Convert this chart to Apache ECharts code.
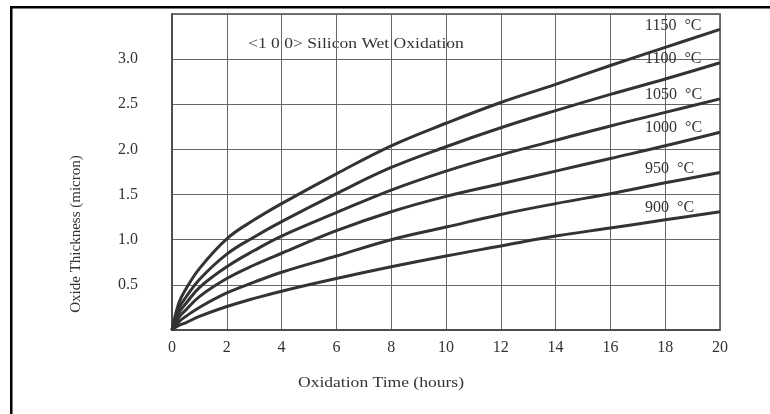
<!DOCTYPE html>
<html>
<head>
<meta charset="utf-8">
<title>Silicon Wet Oxidation</title>
<script src="https://cdn.jsdelivr.net/npm/echarts@6/dist/echarts.min.js"></script>
<style>
  html, body { margin: 0; padding: 0; background: #fff; }
  #main { width: 770px; height: 414px; }
</style>
</head>
<body>
<div id="main"></div>
<script>
// oxidation time in hours, shared by every curve
var times = [0, 0.25, 0.5, 1, 2, 3, 4, 6, 8, 10, 12, 14, 16, 18, 20];

// oxide thickness in micron
var temps = ['1150', '1100', '1050', '1000', '950', '900'];
var t1150 = [0, 0.30, 0.45, 0.68, 1.01, 1.22, 1.40, 1.73, 2.04, 2.29, 2.52, 2.72, 2.93, 3.13, 3.33];
var t1100 = [0, 0.24, 0.36, 0.56, 0.84, 1.03, 1.20, 1.51, 1.80, 2.03, 2.24, 2.43, 2.61, 2.78, 2.96];
var t1050 = [0, 0.19, 0.29, 0.47, 0.70, 0.88, 1.04, 1.30, 1.55, 1.76, 1.94, 2.10, 2.26, 2.41, 2.56];
var t1000 = [0, 0.14, 0.22, 0.37, 0.57, 0.72, 0.85, 1.10, 1.31, 1.48, 1.62, 1.76, 1.90, 2.04, 2.19];
var t950 = [0, 0.09, 0.15, 0.25, 0.41, 0.53, 0.64, 0.82, 1.00, 1.14, 1.28, 1.40, 1.51, 1.63, 1.745];
var t900 = [0, 0.05, 0.08, 0.15, 0.26, 0.35, 0.43, 0.57, 0.70, 0.82, 0.93, 1.04, 1.13, 1.22, 1.31];
var curves = [t1150, t1100, t1050, t1000, t950, t900];

var xTicks = ['0', '2', '4', '6', '8', '10', '12', '14', '16', '18', '20'];
var yTicks = ['', '0.5', '1.0', '1.5', '2.0', '2.5', '3.0', ''];

var textColor = '#333';
var serif = '"Liberation Serif", "DejaVu Serif", serif';

var myChart = echarts.init(document.getElementById('main'));

var series = curves.map(function (vals, i) {
  var last = vals.length - 1;
  return {
    name: temps[i] + '  \u00B0C',
    type: 'line',
    smooth: 0.4,
    symbol: 'none',
    lineStyle: { color: '#333', width: 3 },
    data: vals.map(function (v, j) { return [times[j], v]; }),
    markPoint: {
      symbol: 'circle',
      symbolSize: 1,
      itemStyle: { color: 'rgba(0,0,0,0)' },
      label: {
        show: true,
        position: 'inside',
        align: 'left',
        offset: [-75, -4],
        color: textColor,
        fontFamily: serif,
        fontSize: 16,
        formatter: function (p) { return p.seriesName; }
      },
      data: [{ coord: [times[last], vals[last]] }]
    }
  };
});

myChart.setOption({
  animation: false,
  backgroundColor: '#fff',
  grid: {
    show: true,
    left: 172,
    right: 50,
    top: 14,
    bottom: 84,
    borderColor: '#4a4a4a',
    borderWidth: 1.5
  },
  xAxis: {
    type: 'value',
    min: 0,
    max: 20,
    interval: 2,
    axisLine: { lineStyle: { color: '#444', width: 1.5 } },
    axisTick: { show: false },
    splitLine: { lineStyle: { color: '#666', width: 1 } },
    axisLabel: {
      margin: 10,
      color: textColor,
      fontFamily: serif,
      fontSize: 16,
      formatter: function (v) { return xTicks[Math.round(v / 2)]; }
    }
  },
  yAxis: {
    type: 'value',
    min: 0,
    max: 3.5,
    interval: 0.5,
    axisLine: { show: true, lineStyle: { color: '#444', width: 1.5 } },
    axisTick: { show: false },
    splitLine: { lineStyle: { color: '#666', width: 1 } },
    axisLabel: {
      margin: 34,
      color: textColor,
      fontFamily: serif,
      fontSize: 16,
      formatter: function (v) { return yTicks[Math.round(v * 2)]; }
    }
  },
  graphic: [
    // frame of the scanned page
    { type: 'rect', shape: { x: 10, y: 6, width: 760, height: 2.5 }, style: { fill: '#000' } },
    { type: 'rect', shape: { x: 10, y: 6, width: 2.5, height: 408 }, style: { fill: '#000' } },
    {
      type: 'text', x: 248, y: 44, scaleX: 1.17,
      style: {
        text: '<1 0 0> Silicon Wet Oxidation',
        fill: textColor, font: '15px ' + serif,
        textAlign: 'left', textVerticalAlign: 'middle'
      }
    },
    {
      type: 'text', x: 381, y: 383, scaleX: 1.17,
      style: {
        text: 'Oxidation Time (hours)',
        fill: textColor, font: '15px ' + serif,
        textAlign: 'center', textVerticalAlign: 'middle'
      }
    },
    {
      type: 'text', x: 76, y: 234, rotation: Math.PI / 2,
      style: {
        text: 'Oxide Thickness (micron)',
        fill: textColor, font: '15px ' + serif,
        textAlign: 'center', textVerticalAlign: 'middle'
      }
    }
  ],
  series: series
});
</script>
</body>
</html>
